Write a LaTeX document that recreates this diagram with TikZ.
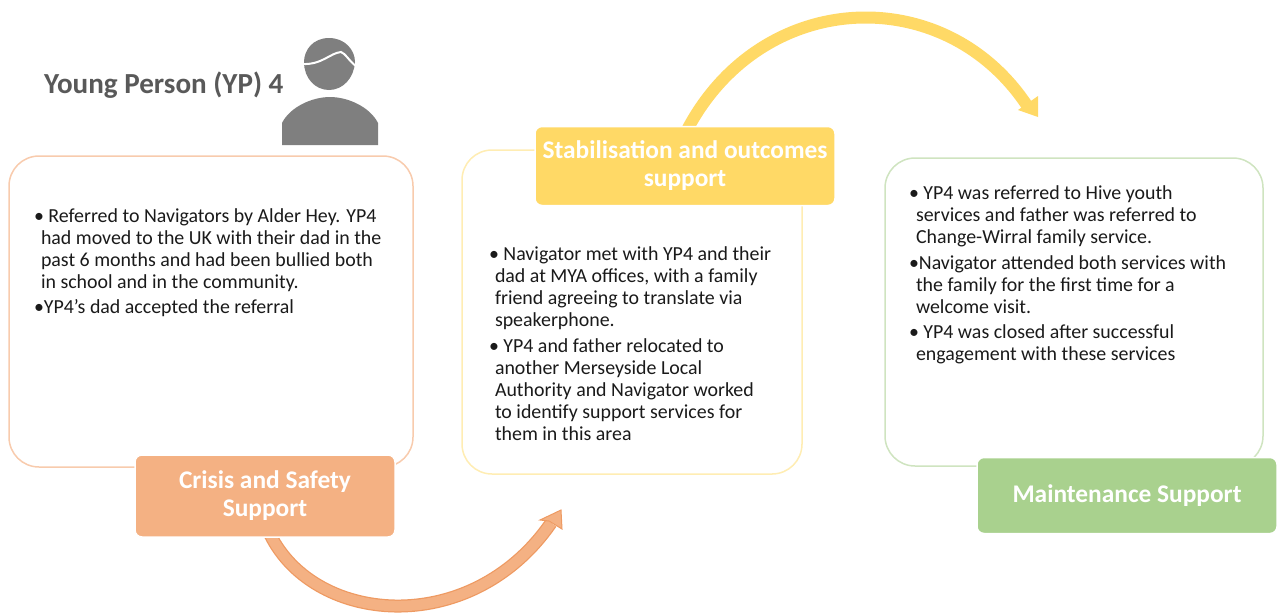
\documentclass[tikz,border=0pt]{standalone}
\usepackage{fontspec}
\setmainfont{Carlito}
\definecolor{orfill}{HTML}{F4B183}
\definecolor{orline}{HTML}{F8CBAD}
\definecolor{orarrow}{HTML}{EE9A62}
\definecolor{yefill}{HTML}{FFD966}
\definecolor{yeline}{HTML}{FFEDB3}
\definecolor{grfill}{HTML}{A9D18E}
\definecolor{grline}{HTML}{CFE4C0}
\definecolor{icon}{HTML}{7F7F7F}
\definecolor{titlec}{HTML}{595959}
\definecolor{bodyc}{HTML}{1A1A1A}
\tikzset{
  panel/.style={draw=#1,line width=1.5pt,rounded corners=30pt,fill=white,inner sep=0pt,outer sep=0pt},
  tag/.style={fill=#1,draw=white,line width=1.5pt,rounded corners=7pt,inner sep=0pt,outer sep=0pt,
    text=white,align=center,font=\fontsize{25.4}{28}\selectfont\bfseries},
  body/.style={text=bodyc,align=left,anchor=north west,inner sep=0pt,outer sep=0pt,
    font=\fontsize{19.9}{22}\selectfont}
}
\begin{document}
\begin{tikzpicture}[x=1pt,y=-1pt]
\useasboundingbox (0,0) rectangle (1281,614);
% panels
\node[panel=orline,minimum width=404pt,minimum height=311pt] (p1) at (211,311.5) {};
\node[panel=yeline,minimum width=340pt,minimum height=324pt] (p2) at (632,312) {};
\node[panel=grline,minimum width=378pt,minimum height=308pt] (p3) at (1074,312) {};
% arrows (behind the tags)
\coordinate (oa0) at (268,530);
\coordinate (oa1) at (551,523);
\coordinate (ya0) at (686,132);
\coordinate (ya1) at (1028,107);
\draw[orarrow,line width=13pt] (oa0) .. controls (310,625) and (470,640) .. (oa1);
\draw[orfill,line width=10.5pt] (oa0) .. controls (310,625) and (470,640) .. (oa1);
\fill[orfill,draw=orarrow,line width=1pt] (561,510) -- (562,529) -- (549,521) -- (540,520) -- cycle;
\draw[yefill,line width=12pt] (ya0) .. controls (760,-12) and (945,-20) .. (ya1);
\fill[yefill] (1038,96) -- (1038,117) -- (1018,110) -- cycle;
% tags
\node[tag=orfill,minimum width=260pt,minimum height=82pt] (t1) at (265,496) {Crisis and Safety\\Support};
\node[tag=yefill,minimum width=300pt,minimum height=79pt] (t2) at (685,166) {Stabilisation and outcomes\\support};
\node[tag=grfill,minimum width=300pt,minimum height=76pt] (t3) at (1127,495.5) {Maintenance Support};
% title
\node[text=titlec,anchor=west,inner sep=0pt,font=\fontsize{29.1}{32}\selectfont\bfseries] (title) at (44,85) {Young Person (YP) 4};
% person icon
\fill[icon] (329,38) .. controls (345,38) and (355,50) .. (355,62)
  .. controls (354,78) and (343,90) .. (329,90)
  .. controls (315,90) and (304,78) .. (304,62)
  .. controls (304,50) and (313,38) .. (329,38) -- cycle;
\draw[white,line width=2pt] (302,64) .. controls (322,65) and (330,53) .. (341,52) .. controls (345,53) and (350,62) .. (356,66);
\fill[icon] (282,145) -- (282,123) .. controls (290,107) and (312,97) .. (330,97)
  .. controls (348,97) and (370,107) .. (378,123) -- (378,145) -- cycle;
% bodies
\node[body] (b1) at (34,209) {\textbullet\ Referred to Navigators by Alder Hey. YP4\\
\hspace*{7pt}had moved to the UK with their dad in the\\
\hspace*{7pt}past 6 months and had been bullied both\\
\hspace*{7pt}in school and in the community.\\[3pt]
\textbullet YP4’s dad accepted the referral};
\node[body] (b2) at (489,247) {\textbullet\ Navigator met with YP4 and their\\
\hspace*{6pt}dad at MYA offices, with a family\\
\hspace*{6pt}friend agreeing to translate via\\
\hspace*{6pt}speakerphone.\\[4pt]
\textbullet\ YP4 and father relocated to\\
\hspace*{6pt}another Merseyside Local\\
\hspace*{6pt}Authority and Navigator worked\\
\hspace*{6pt}to identify support services for\\
\hspace*{6pt}them in this area};
\node[body] (b3) at (909,186) {\textbullet\ YP4 was referred to Hive youth\\
\hspace*{7pt}services and father was referred to\\
\hspace*{7pt}Change-Wirral family service.\\[4pt]
\textbullet Navigator attended both services with\\
\hspace*{7pt}the family for the first time for a\\
\hspace*{7pt}welcome visit.\\[3pt]
\textbullet\ YP4 was closed after successful\\
\hspace*{7pt}engagement with these services};
\end{tikzpicture}
\end{document}
